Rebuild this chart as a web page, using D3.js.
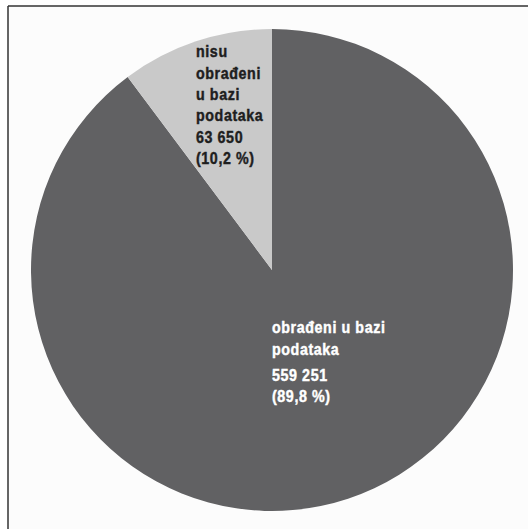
<!DOCTYPE html>
<html>
<head>
<meta charset="utf-8">
<script src="https://cdn.jsdelivr.net/npm/d3@7"></script>
<style>
  html, body { margin: 0; padding: 0; background: #ffffff; }
  svg { display: block; }
  text { font-family: "Liberation Sans", Arial, sans-serif; font-weight: bold; font-size: 17px; letter-spacing: 0.7px; }
</style>
</head>
<body>
<svg id="chart" width="528" height="529"></svg>
<script>
const categories = ["obrađeni u bazi podataka", "nisu obrađeni u bazi podataka"];
const values = [559251, 63650];
const percents = ["89,8 %", "10,2 %"];
const valueLabels = ["559 251", "63 650"];
const labelLines = [
  ["obrađeni u bazi", "podataka", "559 251", "(89,8 %)"],
  ["nisu", "obrađeni", "u bazi", "podataka", "63 650", "(10,2 %)"]
];
const colors = ["#616163", "#c9c9c9"];
const textColors = ["#ffffff", "#1e1e1e"];

const W = 528, H = 529;
const cx = 272, cy = 270, R = 241;
const svg = d3.select("#chart");

// background + frame
svg.append("rect").attr("x", 8).attr("y", 6).attr("width", W - 8).attr("height", H - 6).attr("fill", "#fcfcfc");
svg.append("line").attr("x1", 8).attr("y1", 6).attr("x2", W).attr("y2", 6).attr("stroke", "#333").attr("stroke-width", 1.5);
svg.append("line").attr("x1", 8).attr("y1", 6).attr("x2", 8).attr("y2", H).attr("stroke", "#333").attr("stroke-width", 1.5);

const pie = d3.pie().sort(null).value(d => d)(values);
const arc = d3.arc().innerRadius(0).outerRadius(R);

const g = svg.append("g").attr("transform", `translate(${cx},${cy})`);
g.selectAll("path").data(pie).join("path")
  .attr("d", arc)
  .attr("fill", (d, i) => colors[i]);

// label positions relative to center (block left x, baselines)
const labelPos = [
  { x: 0, ys: [63, 85, 111, 132] },
  { x: -76, ys: [-213, -191, -170, -149, -127, -106] }
];
const squeeze = 0.84;
labelLines.forEach((lines, i) => {
  const lg = g.append("g").attr("transform", `translate(${labelPos[i].x},0) scale(${squeeze},1)`);
  const t = lg.append("text").attr("fill", textColors[i])
    .attr("stroke", textColors[i]).attr("stroke-width", 0.45);
  lines.forEach((ln, j) => {
    t.append("tspan").attr("x", 0).attr("y", labelPos[i].ys[j]).text(ln);
  });
});
</script>
</body>
</html>
